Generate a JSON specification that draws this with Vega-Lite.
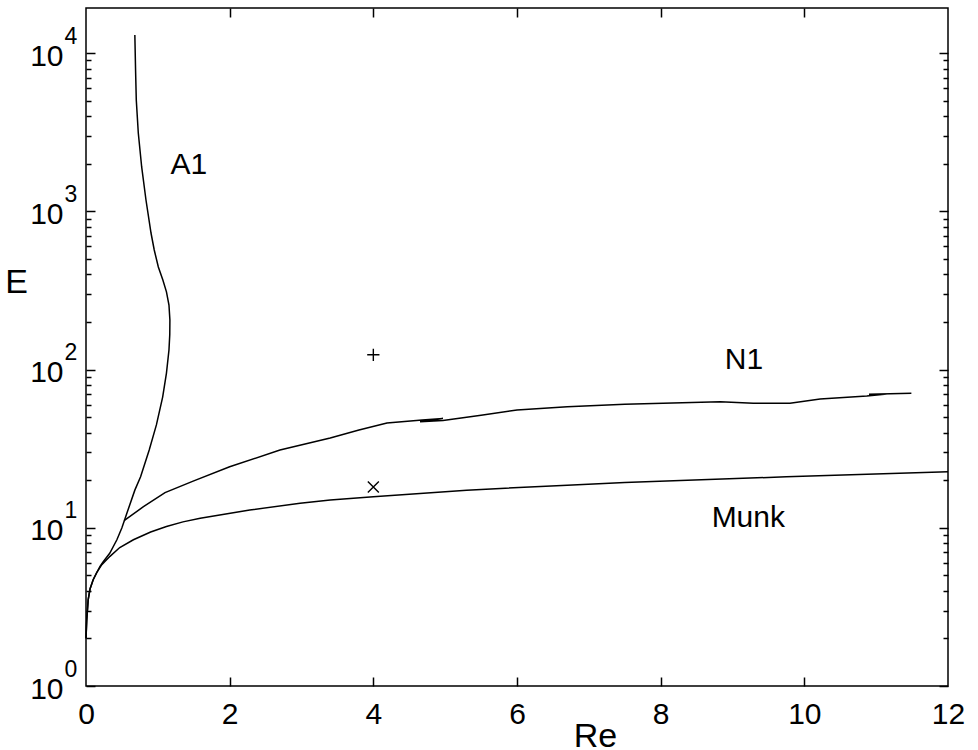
{
  "$schema": "https://vega.github.io/schema/vega-lite/v6.json",
  "width": 862,
  "height": 678,
  "autosize": "none",
  "padding": {"left": 86, "top": 8, "right": 30, "bottom": 64},
  "background": "white",
  "config": {
    "font": "Liberation Sans",
    "view": {"stroke": "black", "strokeWidth": 1.5},
    "axis": {"grid": false, "domain": false, "labelColor": "black", "tickColor": "black", "tickWidth": 1.5, "titleColor": "black", "labelFlush": false, "labelOverlap": false}
  },
  "resolve": {"axis": {"x": "independent", "y": "independent"}},
  "layer": [
    {
      "data": {"values": [
        {"series": "Munk", "order": 1, "x": 0.0, "y": 2.0},
        {"series": "Munk", "order": 2, "x": 0.01, "y": 2.6},
        {"series": "Munk", "order": 3, "x": 0.03, "y": 3.5},
        {"series": "Munk", "order": 4, "x": 0.056, "y": 4.1},
        {"series": "Munk", "order": 5, "x": 0.1, "y": 4.7},
        {"series": "Munk", "order": 6, "x": 0.149, "y": 5.2},
        {"series": "Munk", "order": 7, "x": 0.22, "y": 5.85},
        {"series": "Munk", "order": 8, "x": 0.334, "y": 6.6},
        {"series": "Munk", "order": 9, "x": 0.47, "y": 7.5},
        {"series": "Munk", "order": 10, "x": 0.66, "y": 8.4},
        {"series": "Munk", "order": 11, "x": 0.9, "y": 9.4},
        {"series": "Munk", "order": 12, "x": 1.12, "y": 10.2},
        {"series": "Munk", "order": 13, "x": 1.35, "y": 10.9},
        {"series": "Munk", "order": 14, "x": 1.59, "y": 11.5},
        {"series": "Munk", "order": 15, "x": 2.28, "y": 12.96},
        {"series": "Munk", "order": 16, "x": 2.98, "y": 14.3},
        {"series": "Munk", "order": 17, "x": 3.4, "y": 15.0},
        {"series": "Munk", "order": 18, "x": 4.0, "y": 15.7},
        {"series": "Munk", "order": 19, "x": 5.3, "y": 17.3},
        {"series": "Munk", "order": 20, "x": 6.7, "y": 18.6},
        {"series": "Munk", "order": 21, "x": 7.5, "y": 19.3},
        {"series": "Munk", "order": 22, "x": 9.75, "y": 21.0},
        {"series": "Munk", "order": 23, "x": 12.0, "y": 22.6},
        {"series": "A1", "order": 1, "x": 0.0, "y": 2.0},
        {"series": "A1", "order": 2, "x": 0.01, "y": 2.6},
        {"series": "A1", "order": 3, "x": 0.03, "y": 3.5},
        {"series": "A1", "order": 4, "x": 0.056, "y": 4.1},
        {"series": "A1", "order": 5, "x": 0.1, "y": 4.7},
        {"series": "A1", "order": 6, "x": 0.149, "y": 5.2},
        {"series": "A1", "order": 7, "x": 0.195, "y": 5.7},
        {"series": "A1", "order": 8, "x": 0.24, "y": 6.1},
        {"series": "A1", "order": 9, "x": 0.33, "y": 6.9},
        {"series": "A1", "order": 10, "x": 0.43, "y": 8.4},
        {"series": "A1", "order": 11, "x": 0.5, "y": 10.0},
        {"series": "A1", "order": 12, "x": 0.57, "y": 12.4},
        {"series": "A1", "order": 13, "x": 0.68, "y": 17.3},
        {"series": "A1", "order": 14, "x": 0.76, "y": 21},
        {"series": "A1", "order": 15, "x": 0.88, "y": 31},
        {"series": "A1", "order": 16, "x": 0.98, "y": 44.7},
        {"series": "A1", "order": 17, "x": 1.067, "y": 67},
        {"series": "A1", "order": 18, "x": 1.12, "y": 95},
        {"series": "A1", "order": 19, "x": 1.155, "y": 133},
        {"series": "A1", "order": 20, "x": 1.166, "y": 166},
        {"series": "A1", "order": 21, "x": 1.168, "y": 206},
        {"series": "A1", "order": 22, "x": 1.155, "y": 256},
        {"series": "A1", "order": 23, "x": 1.12, "y": 310},
        {"series": "A1", "order": 24, "x": 1.07, "y": 368},
        {"series": "A1", "order": 25, "x": 1.007, "y": 445},
        {"series": "A1", "order": 26, "x": 0.95, "y": 570},
        {"series": "A1", "order": 27, "x": 0.905, "y": 730},
        {"series": "A1", "order": 28, "x": 0.835, "y": 1180},
        {"series": "A1", "order": 29, "x": 0.775, "y": 1909},
        {"series": "A1", "order": 30, "x": 0.728, "y": 3130},
        {"series": "A1", "order": 31, "x": 0.70, "y": 5060},
        {"series": "A1", "order": 32, "x": 0.69, "y": 7830},
        {"series": "A1", "order": 33, "x": 0.68, "y": 13030},
        {"series": "N1", "order": 1, "x": 0.53, "y": 11.1},
        {"series": "N1", "order": 2, "x": 0.8, "y": 13.6},
        {"series": "N1", "order": 3, "x": 1.1, "y": 16.7},
        {"series": "N1", "order": 4, "x": 1.5, "y": 19.8},
        {"series": "N1", "order": 5, "x": 2.0, "y": 24.3},
        {"series": "N1", "order": 6, "x": 2.7, "y": 31},
        {"series": "N1", "order": 7, "x": 3.4, "y": 37},
        {"series": "N1", "order": 8, "x": 3.8, "y": 41.5},
        {"series": "N1", "order": 9, "x": 4.19, "y": 45.9},
        {"series": "N1", "order": 10, "x": 4.68, "y": 48},
        {"series": "N1", "order": 11, "x": 4.97, "y": 49},
        {"series": "N1", "order": 12, "x": 4.65, "y": 46.8},
        {"series": "N1", "order": 13, "x": 4.97, "y": 47.6},
        {"series": "N1", "order": 14, "x": 5.5, "y": 51.5},
        {"series": "N1", "order": 15, "x": 6.0, "y": 55.6},
        {"series": "N1", "order": 16, "x": 6.7, "y": 58.3},
        {"series": "N1", "order": 17, "x": 7.5, "y": 60.3},
        {"series": "N1", "order": 18, "x": 8.3, "y": 61.8},
        {"series": "N1", "order": 19, "x": 8.83, "y": 62.7},
        {"series": "N1", "order": 20, "x": 9.29, "y": 61.2},
        {"series": "N1", "order": 21, "x": 9.8, "y": 61.2},
        {"series": "N1", "order": 22, "x": 10.22, "y": 65.2},
        {"series": "N1", "order": 23, "x": 10.87, "y": 68.1},
        {"series": "N1", "order": 24, "x": 11.15, "y": 70.2},
        {"series": "N1", "order": 25, "x": 10.9, "y": 69.8},
        {"series": "N1", "order": 26, "x": 11.49, "y": 70.8}
      ]},
      "mark": {"type": "line", "color": "black", "strokeWidth": 1.5},
      "encoding": {
        "x": {"field": "x", "type": "quantitative",
          "scale": {"domain": [0, 12], "nice": false, "zero": false},
          "axis": {"orient": "bottom", "values": [0, 2, 4, 6, 8, 10, 12], "ticks": false, "labelFontSize": 30, "labelPadding": 13, "title": "Re", "titleFontSize": 34, "titleFontWeight": "normal", "titleX": 509, "titleY": 60, "titleBaseline": "alphabetic", "titleAlign": "center"}},
        "y": {"field": "y", "type": "quantitative",
          "scale": {"type": "log", "domain": [1, 19300], "nice": false},
          "axis": {"orient": "left", "values": [1, 10, 100, 1000, 10000], "labelExpr": "'10'", "ticks": false, "labelFontSize": 30, "labelPadding": 23, "labelOffset": 3, "labelBaseline": "middle", "title": "E", "titleAngle": 0, "titleFontSize": 34, "titleFontWeight": "normal", "titleX": -70, "titleY": 274, "titleBaseline": "middle", "titleAlign": "center"}},
        "detail": {"field": "series"},
        "order": {"field": "order"}
      }
    },
    {
      "data": {"values": [
        {"kind": "plus", "x": 4.0, "y": 124},
        {"kind": "times", "x": 4.0, "y": 18.1}
      ]},
      "mark": {"type": "point", "filled": false, "stroke": "black", "strokeWidth": 1.4, "size": 150, "opacity": 1},
      "encoding": {
        "x": {"field": "x", "type": "quantitative",
          "scale": {"domain": [0, 12], "nice": false, "zero": false},
          "axis": {"orient": "bottom", "values": [2, 4, 6, 8, 10], "labels": false, "tickSize": -9, "title": null}},
        "y": {"field": "y", "type": "quantitative",
          "scale": {"type": "log", "domain": [1, 19300], "nice": false},
          "axis": {"orient": "left", "values": [1, 10, 100, 1000, 10000], "labelExpr": "'' + round(log(datum.value)/LN10)", "ticks": false, "labelFontSize": 23, "labelAlign": "left", "labelPadding": 22, "labelOffset": -17, "labelBaseline": "middle", "title": null}},
        "shape": {"field": "kind", "type": "nominal",
          "scale": {"domain": ["plus", "times"], "range": ["M-1,0L1,0M0,-1L0,1", "M-0.9,-0.9L0.9,0.9M-0.9,0.9L0.9,-0.9"]},
          "legend": null}
      }
    },
    {
      "data": {"values": [
        {"label": "A1", "x": 1.43, "y": 1964},
        {"label": "N1", "x": 9.16, "y": 115.8},
        {"label": "Munk", "x": 9.22, "y": 11.5}
      ]},
      "mark": {"type": "text", "fontSize": 30, "color": "black", "align": "center", "baseline": "middle"},
      "encoding": {
        "x": {"field": "x", "type": "quantitative",
          "scale": {"domain": [0, 12], "nice": false, "zero": false},
          "axis": {"orient": "top", "values": [2, 4, 6, 8, 10], "labels": false, "tickSize": -9, "title": null}},
        "y": {"field": "y", "type": "quantitative",
          "scale": {"type": "log", "domain": [1, 19300], "nice": false},
          "axis": {"orient": "left", "labels": false, "title": null,
            "values": [1, 2, 3, 4, 5, 6, 7, 8, 9, 10, 20, 30, 40, 50, 60, 70, 80, 90, 100, 200, 300, 400, 500, 600, 700, 800, 900, 1000, 2000, 3000, 4000, 5000, 6000, 7000, 8000, 9000, 10000],
            "tickSize": {"condition": {"test": "abs(log(datum.value)/LN10 - round(log(datum.value)/LN10)) < 0.001", "value": -9}, "value": -5}}},
        "text": {"field": "label"}
      }
    },
    {
      "data": {"values": [
        {"label": "A1", "x": 1.43, "y": 1964},
        {"label": "N1", "x": 9.16, "y": 115.8},
        {"label": "Munk", "x": 9.22, "y": 11.5}
      ]},
      "mark": {"type": "point", "opacity": 0},
      "encoding": {
        "x": {"field": "x", "type": "quantitative",
          "scale": {"domain": [0, 12], "nice": false, "zero": false},
          "axis": null},
        "y": {"field": "y", "type": "quantitative",
          "scale": {"type": "log", "domain": [1, 19300], "nice": false},
          "axis": {"orient": "right", "labels": false, "title": null,
            "values": [1, 2, 3, 4, 5, 6, 7, 8, 9, 10, 20, 30, 40, 50, 60, 70, 80, 90, 100, 200, 300, 400, 500, 600, 700, 800, 900, 1000, 2000, 3000, 4000, 5000, 6000, 7000, 8000, 9000, 10000],
            "tickSize": {"condition": {"test": "abs(log(datum.value)/LN10 - round(log(datum.value)/LN10)) < 0.001", "value": -9}, "value": -5}}}
      }
    }
  ]
}
